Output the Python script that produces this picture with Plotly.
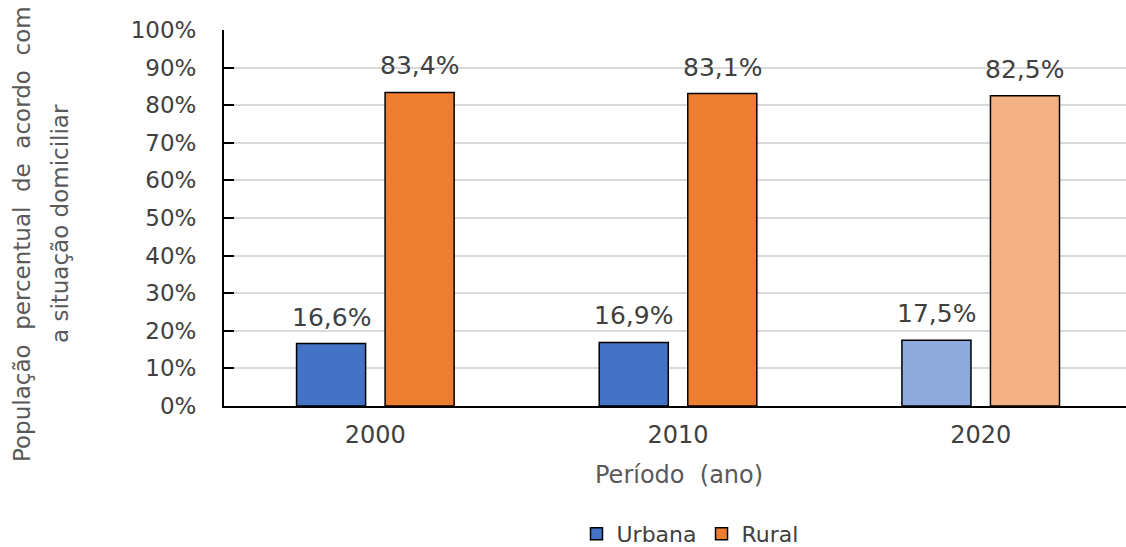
import plotly.graph_objects as go

categories = ["2000", "2010", "2020"]
urbana = [16.6, 16.9, 17.5]
rural = [83.4, 83.1, 82.5]
urbana_colors = ["#4472C4", "#4472C4", "#8FAADC"]
rural_colors = ["#ED7D31", "#ED7D31", "#F4B183"]
y_ticks = list(range(0, 101, 10))
y_ticktext = [f"{v}%" for v in y_ticks]
ytitle_lines = ["População  percentual  de  acordo  com", "a situação domiciliar"]

BARGAP = 0.415
GROUPGAP = 0.22
FONT = "DejaVu Sans"
TXT = "#404040"
TITLE = "#595959"

fig = go.Figure()
fig.add_trace(go.Bar(name="Urbana", x=categories, y=urbana,
                     marker=dict(color=urbana_colors, line=dict(color="#000000", width=1.5))))
fig.add_trace(go.Bar(name="Rural", x=categories, y=rural,
                     marker=dict(color=rural_colors, line=dict(color="#000000", width=1.5))))

off = (1 - BARGAP) / 4
for i, c in enumerate(categories):
    for val, sgn in ((urbana[i], -1), (rural[i], 1)):
        fig.add_annotation(x=i + sgn * off, y=val, xref="x", yref="y",
                           text=f"{val:.1f}%".replace(".", ","), showarrow=False,
                           yanchor="bottom", yshift=10,
                           font=dict(family=FONT, size=25, color=TXT))

W, H = 1126, 547
ml, mr, mt, mb = 224, 0, 30, 141
pw, ph = W - ml - mr, H - mt - mb

def px_x(px):
    return (px - ml) / pw

def px_y(py):
    return (H - mb - py) / ph

for line, cx, cy in ((ytitle_lines[0], 22, 234), (ytitle_lines[1], 60, 224)):
    fig.add_annotation(xref="paper", yref="paper", x=px_x(cx), y=px_y(cy),
                       text=line, textangle=-90, showarrow=False,
                       xanchor="center", yanchor="middle",
                       font=dict(family=FONT, size=23, color=TITLE))
fig.add_annotation(xref="paper", yref="paper", x=px_x(679), y=px_y(475),
                   text="Período  (ano)", showarrow=False, xanchor="center", yanchor="middle",
                   font=dict(family=FONT, size=24, color=TITLE))

fig.update_layout(
    width=W, height=H,
    margin=dict(l=ml, r=mr, t=mt, b=mb, autoexpand=False),
    plot_bgcolor="white", paper_bgcolor="white",
    barmode="group", bargap=BARGAP, bargroupgap=GROUPGAP,
    font=dict(family=FONT, size=24, color=TXT),
    legend=dict(orientation="h", x=px_x(690), xanchor="center", y=px_y(555), yanchor="bottom",
                font=dict(family=FONT, size=22, color=TXT), traceorder="normal",
                itemwidth=30, borderwidth=0),
    showlegend=True,
)
fig.update_xaxes(range=[-0.5, 2.48], showline=True, linecolor="#000000", linewidth=2,
                 ticks="", showgrid=False, ticklabelstandoff=6,
                 tickfont=dict(family=FONT, size=24, color=TXT))
fig.update_yaxes(range=[0, 100], tickvals=y_ticks, ticktext=y_ticktext, showline=True,
                 linecolor="#000000", linewidth=2, ticks="inside", ticklen=10, tickwidth=2,
                 tickcolor="#000000", showgrid=True, gridcolor="#D9D9D9", gridwidth=2,
                 ticklabelstandoff=21, tickfont=dict(family=FONT, size=23, color=TXT),
                 zeroline=False)

fig.write_html("out.html")
